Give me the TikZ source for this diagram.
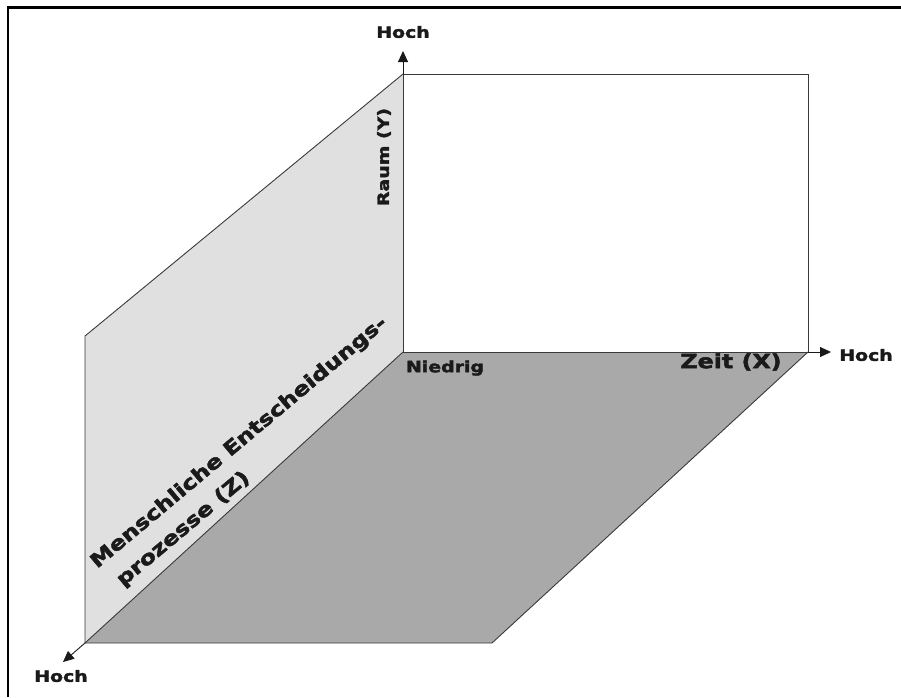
\documentclass[tikz,border=0pt]{standalone}
\usepackage{fontspec}
\usetikzlibrary{arrows.meta}
\newfontfamily\axisfamily[FakeStretch=1.22,FakeBold=2.4]{DejaVu Sans Bold}
\definecolor{wallgrey}{HTML}{E0E0E0}
\definecolor{floorgrey}{HTML}{A9A9A9}
\definecolor{edgegrey}{HTML}{3A3A3A}
\definecolor{inkblack}{HTML}{1A1A1A}
\newcommand{\tipfont}{\fontsize{15.5}{17}\selectfont\axisfamily}
\newcommand{\axisfont}{\fontsize{19.5}{22}\selectfont\axisfamily}
\newcommand{\raumfont}{\fontsize{15.5}{17}\selectfont\axisfamily}
\tikzset{
  edge/.style={draw=edgegrey,line width=0.9pt},
  axisarrow/.style={draw=inkblack,line width=0.9pt,-{Triangle[length=11pt,width=10pt]}},
  lbl/.style={inner sep=0pt,text=inkblack},
}

\begin{document}
\begin{tikzpicture}[x=1pt,y=-1pt]
  \useasboundingbox (0,0) rectangle (901,697);
  \draw[line width=2.2pt] (8,697) -- (8,7.5) -- (901,7.5);

  % corners of the box
  \coordinate (orig) at (403,352);
  \coordinate (ytop) at (403,74);
  \coordinate (xend) at (808,352);
  \coordinate (wtl) at (85,336);
  \coordinate (zend) at (85,643);
  \coordinate (fbr) at (492,643);

  \fill[wallgrey] (ytop) -- (wtl) -- (zend) -- (orig) -- cycle;
  \fill[floorgrey] (orig) -- (xend) -- (fbr) -- (zend) -- cycle;
  \draw[edge] (ytop) -- (wtl) -- (zend) -- (fbr) -- (xend);
  \draw[edge] (ytop) rectangle (xend);
  \draw[edge] (orig) -- (zend);

  % axis ends
  \node[lbl] (hochy) at (403,32) {\tipfont Hoch};
  \node[lbl] (hochx) at (866,355) {\tipfont Hoch};
  \node[lbl] (hochz) at (61,676) {\tipfont Hoch};
  \coordinate (ytip) at (403,51);
  \coordinate (xtip) at (831,352);
  \coordinate (ztip) at (63,662);
  \draw[axisarrow] (ytop) -- (ytip);
  \draw[axisarrow] (xend) -- (xtip);
  \draw[axisarrow] (zend) -- (ztip);

  \node[lbl] (low) at (445,368) {\tipfont Niedrig};
  \node[lbl] (zeit) at (731,362) {\axisfont Zeit (X)};
  \node[lbl,rotate=90] (raum) at (384,157) {\raumfont Raum (Y)};
  \node[lbl,rotate=40,anchor=base west] (mensch1) at (97,569)
    {\axisfont Menschliche Entscheidungs-};
  \node[lbl,rotate=40,anchor=base west] (mensch2) at (123,587)
    {\axisfont prozesse (Z)};
\end{tikzpicture}
\end{document}
